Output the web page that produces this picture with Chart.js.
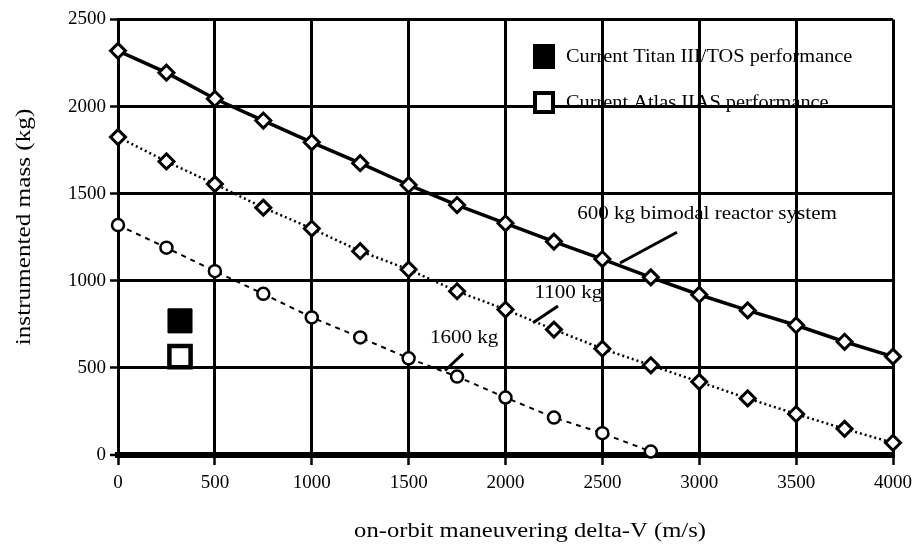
<!DOCTYPE html>
<html>
<head>
<meta charset="utf-8">
<script src="https://cdn.jsdelivr.net/npm/chart.js@4.4.1/dist/chart.umd.min.js"></script>
<style>
  html, body { margin: 0; padding: 0; background: #fff; }
  #wrap { width: 915px; height: 551px; }
</style>
</head>
<body>
<div id="wrap"><canvas id="chart" width="915" height="551"></canvas></div>
<script>
// delta-V (m/s) sample points
const deltaV = [0, 250, 500, 750, 1000, 1250, 1500, 1750, 2000, 2250, 2500, 2750, 3000, 3250, 3500, 3750, 4000];

// instrumented mass (kg) for each reactor system mass
const mass600 = [2320, 2195, 2045, 1920, 1795, 1675, 1550, 1435, 1330, 1225, 1125, 1020, 920, 830, 745, 650, 565];
const mass1100 = [1825, 1685, 1555, 1420, 1300, 1170, 1065, 940, 835, 720, 610, 515, 420, 325, 235, 150, 70];
const mass1600 = [1320, 1190, 1055, 925, 790, 675, 555, 450, 330, 215, 125, 20];

// current launch vehicle performance markers
const titanPoint = { x: 320, y: 770 };
const atlasPoint = { x: 320, y: 565 };

const xTicks = [0, 500, 1000, 1500, 2000, 2500, 3000, 3500, 4000];
const yTicks = [0, 500, 1000, 1500, 2000, 2500];

// labels with leader lines, in data units
const labelTexts = ["600 kg bimodal reactor system", "1100 kg", "1600 kg"];
const labelAnchors = [{ x: 2370, y: 1380 }, { x: 2150, y: 930 }, { x: 1610, y: 668 }];
const leaderLines = [
  [{ x: 2885, y: 1279 }, { x: 2591, y: 1102 }],
  [{ x: 2271, y: 856 }, { x: 2142, y: 759 }],
  [{ x: 1781, y: 582 }, { x: 1688, y: 485 }]
];

const legendTexts = ["Current Titan III/TOS performance", "Current Atlas IIAS performance"];
const xTitle = "on-orbit maneuvering delta-V (m/s)";
const yTitle = "instrumented mass (kg)";

const FONT = "'Liberation Serif', 'DejaVu Serif', serif";
const STRETCH = 1.17; // the scanned original is wider than normal Times

function toPoints(xs, ys) {
  return ys.map((y, i) => ({ x: xs[i], y }));
}

const seriesStyle = (dash, width, style, radius, pbw) => ({
  showLine: true,
  borderColor: "#000",
  borderWidth: width,
  borderDash: dash,
  pointStyle: style,
  pointRadius: radius,
  pointHoverRadius: radius,
  pointBorderWidth: pbw,
  pointBorderColor: "#000",
  pointBackgroundColor: "#fff",
  clip: false
});

const datasets = [
  { label: "600 kg", data: toPoints(deltaV, mass600), ...seriesStyle([], 3.5, "rectRot", 7.5, 3) },
  { label: "1100 kg", data: toPoints(deltaV, mass1100), ...seriesStyle([2, 3], 2.5, "rectRot", 7.5, 3) },
  { label: "1600 kg", data: toPoints(deltaV, mass1600), ...seriesStyle([5, 5], 2, "circle", 6, 2.5) },
  {
    label: "Titan", data: [titanPoint], pointStyle: "rect", pointRadius: 17,
    pointBackgroundColor: "#000", pointBorderColor: "#000", pointBorderWidth: 1
  },
  {
    label: "Atlas", data: [atlasPoint], pointStyle: "rect", pointRadius: 15,
    pointBackgroundColor: "#fff", pointBorderColor: "#000", pointBorderWidth: 4.5
  }
];

leaderLines.forEach((pts, i) => {
  datasets.push({
    label: "leader " + i, data: pts, showLine: true, borderColor: "#000",
    borderWidth: 3, pointRadius: 0, pointHoverRadius: 0
  });
});

// draw text squeezed/stretched horizontally, anchored left or centre
function wideText(ctx, text, x, y, sx, align) {
  ctx.save();
  ctx.translate(x, y);
  ctx.scale(sx, 1);
  ctx.textAlign = align;
  ctx.fillText(text, 0, 0);
  ctx.restore();
}

const annotationPlugin = {
  id: "annotations",
  afterDatasetsDraw(chart) {
    const { ctx, chartArea, scales } = chart;
    ctx.save();
    ctx.fillStyle = "#000";
    ctx.textBaseline = "middle";
    ctx.font = "18px " + FONT;
    labelTexts.forEach((t, i) => {
      wideText(ctx, t, scales.x.getPixelForValue(labelAnchors[i].x),
        scales.y.getPixelForValue(labelAnchors[i].y), STRETCH, "left");
    });

    // legend in the upper right of the plot
    const lx = 533;
    ctx.fillRect(lx, 44, 22, 25);
    ctx.fillStyle = "#fff";
    ctx.fillRect(lx + 2, 93, 18, 19);
    ctx.strokeStyle = "#000";
    ctx.lineWidth = 4;
    ctx.strokeRect(lx + 2, 93, 18, 19);
    ctx.fillStyle = "#000";
    wideText(ctx, legendTexts[0], lx + 33, 57, 1.13, "left");
    wideText(ctx, legendTexts[1], lx + 33, 103, 1.13, "left");

    // axis titles
    ctx.font = "20px " + FONT;
    wideText(ctx, xTitle, 530, 532, 1.23, "center");
    ctx.translate(25, 227);
    ctx.rotate(-Math.PI / 2);
    wideText(ctx, yTitle, 0, 0, 1.26, "center");
    ctx.restore();
  }
};

new Chart(document.getElementById("chart"), {
  type: "scatter",
  data: { datasets },
  options: {
    responsive: false,
    animation: false,
    events: [],
    layout: { padding: { top: 17, right: 22, left: 0, bottom: 0 } },
    plugins: { legend: { display: false }, tooltip: { enabled: false } },
    scales: {
      x: {
        type: "linear",
        min: 0,
        max: 4000,
        afterFit(scale) {
          scale.height = 96;
          scale.paddingLeft = 0;
          scale.paddingRight = 0;
        },
        afterBuildTicks(scale) { scale.ticks = xTicks.map((v) => ({ value: v })); },
        ticks: {
          color: "#000", font: { family: FONT, size: 19 }, padding: 7, maxRotation: 0,
          callback: (v) => String(v)
        },
        grid: { color: "#000", lineWidth: 3, tickLength: 10, tickWidth: 2.5, tickColor: "#000" },
        border: { color: "#000", width: 6 }
      },
      y: {
        min: 0,
        max: 2500,
        afterFit(scale) {
          scale.width = 118;
          scale.paddingTop = 0;
          scale.paddingBottom = 0;
        },
        afterBuildTicks(scale) { scale.ticks = yTicks.map((v) => ({ value: v })); },
        ticks: { color: "#000", font: { family: FONT, size: 19 }, padding: 4, callback: (v) => String(v) },
        grid: {
          color: "#000",
          lineWidth: (c) => (c.tick && c.tick.value === 0 ? 6 : 3),
          tickLength: 8, tickWidth: 2.5, tickColor: "#000"
        },
        border: { color: "#000", width: 3 }
      }
    }
  },
  plugins: [annotationPlugin]
});
</script>
</body>
</html>
